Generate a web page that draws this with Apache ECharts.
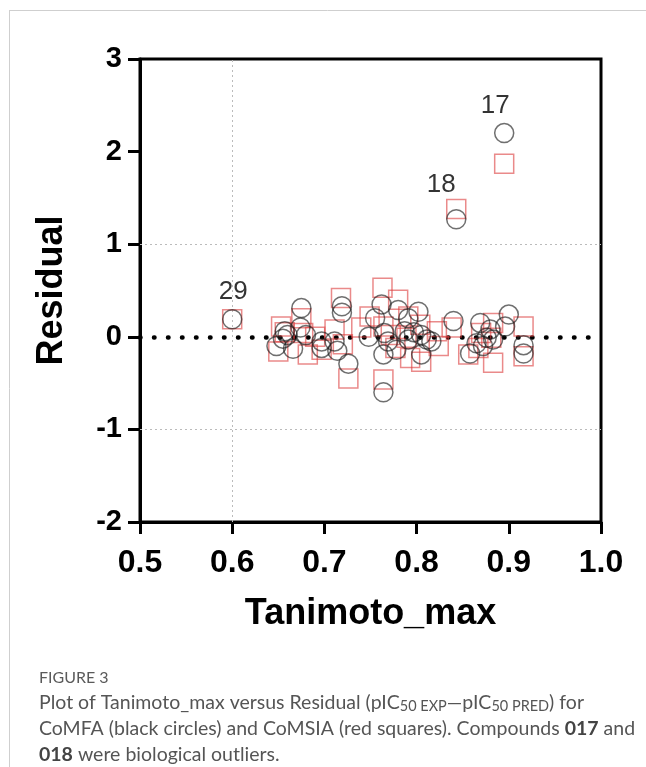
<!DOCTYPE html>
<html>
<head>
<meta charset="utf-8">
<script src="https://cdn.jsdelivr.net/npm/echarts@6/dist/echarts.min.js"></script>
<style>
  html, body { margin: 0; padding: 0; background: #fff; }
  #chart { width: 646px; height: 767px; }
</style>
</head>
<body>
<div id="chart"></div>
<script>
// x tick labels / y tick labels
const xTicks = [0.5, 0.6, 0.7, 0.8, 0.9, 1.0];
const yTicks = [-2, -1, 0, 1, 2, 3];

// CoMFA residuals (black circles): [Tanimoto_max, Residual]
const comfa = [
    [0.600, 0.19], [0.648, -0.10], [0.655, -0.02], [0.657, 0.06], [0.660, 0.02],
    [0.666, -0.13], [0.674, 0.10], [0.675, 0.31], [0.680, 0.02], [0.697, -0.05],
    [0.697, -0.12], [0.711, -0.05], [0.714, -0.15], [0.719, 0.33], [0.719, 0.26],
    [0.726, -0.29], [0.748, 0.00], [0.755, 0.20], [0.762, 0.35], [0.764, -0.19],
    [0.764, -0.60], [0.769, -0.05], [0.765, 0.04], [0.778, -0.14], [0.780, 0.29],
    [0.787, 0.06], [0.791, 0.20], [0.791, -0.03], [0.797, 0.05], [0.802, 0.27],
    [0.805, 0.02], [0.805, -0.19], [0.811, -0.03], [0.816, -0.05], [0.840, 0.17],
    [0.843, 1.27], [0.858, -0.18], [0.865, -0.07], [0.869, 0.15], [0.872, -0.10],
    [0.876, -0.01], [0.880, 0.08], [0.883, -0.03], [0.896, 0.11], [0.895, 2.20],
    [0.900, 0.24], [0.916, -0.09], [0.916, -0.18]
];

// CoMSIA residuals (red squares)
const comsia = [
    [0.600, 0.19], [0.650, -0.16], [0.653, 0.11], [0.657, 0.05], [0.675, 0.20],
    [0.677, 0.04], [0.682, -0.19], [0.690, 0.00], [0.697, -0.14], [0.711, 0.08],
    [0.718, 0.42], [0.720, -0.08], [0.726, -0.45], [0.740, 0.10], [0.749, 0.22],
    [0.763, 0.53], [0.764, 0.11], [0.764, -0.46], [0.772, 0.02], [0.777, -0.12],
    [0.780, 0.40], [0.789, -0.01], [0.791, 0.22], [0.793, -0.23], [0.804, 0.13],
    [0.805, -0.27], [0.822, 0.06], [0.824, -0.10], [0.838, 0.10], [0.843, 1.38],
    [0.856, -0.19], [0.867, -0.12], [0.870, 0.04], [0.881, -0.01], [0.883, 0.15],
    [0.883, -0.28], [0.895, 1.87], [0.916, 0.11], [0.916, -0.21]
];

// labelled compounds
const outlierNames = ['17', '18', '29'];
const outlierPts = [[0.895, 2.20], [0.843, 1.38], [0.600, 0.19]];

const chart = echarts.init(document.getElementById('chart'));

const boldFont = '"Liberation Sans", Arial, sans-serif';
const capFont = 'Lato, "Open Sans", sans-serif';

const labelOffsets = [[-9, 0], [-15, 0], [1, 0]];
const labelDist = [14, 11, 14];

const option = {
    animation: false,
    backgroundColor: '#fff',
    grid: {
        left: 140, right: 45, top: 59, bottom: 245,
        show: true, borderColor: '#000', borderWidth: 3
    },
    xAxis: {
        type: 'value',
        min: xTicks[0], max: xTicks[xTicks.length - 1], interval: 0.1,
        name: 'Tanimoto_max', nameLocation: 'middle', nameGap: 74,
        nameTextStyle: { fontFamily: boldFont, fontWeight: 'bold', fontSize: 36, color: '#000' },
        axisLine: { show: true, onZero: false, lineStyle: { color: '#000', width: 3 } },
        axisTick: { show: true, length: 12, lineStyle: { color: '#000', width: 3 } },
        axisLabel: {
            margin: 25, fontFamily: boldFont, fontWeight: 'bold', fontSize: 32, color: '#000',
            formatter: v => v.toFixed(1)
        },
        splitLine: { show: false }
    },
    yAxis: {
        type: 'value',
        min: yTicks[0], max: yTicks[yTicks.length - 1], interval: 1,
        name: 'Residual', nameLocation: 'middle', nameGap: 70, nameRotate: 90,
        nameTextStyle: { fontFamily: boldFont, fontWeight: 'bold', fontSize: 36, color: '#000' },
        axisLine: { show: true, onZero: false, lineStyle: { color: '#000', width: 3 } },
        axisTick: { show: true, length: 12, lineStyle: { color: '#000', width: 3 } },
        axisLabel: { margin: 18, fontFamily: boldFont, fontWeight: 'bold', fontSize: 29, color: '#000' },
        splitLine: { show: false }
    },
    series: [
        {
            name: 'CoMSIA',
            type: 'scatter',
            symbol: 'rect',
            symbolSize: 19,
            itemStyle: { color: 'transparent', borderColor: 'rgba(220,60,60,0.75)', borderWidth: 1.5 },
            data: comsia,
            z: 3
        },
        {
            name: 'CoMFA',
            type: 'scatter',
            symbol: 'circle',
            symbolSize: 19,
            itemStyle: { color: 'transparent', borderColor: 'rgba(30,30,30,0.8)', borderWidth: 1.5 },
            data: comfa,
            z: 4,
            markLine: {
                silent: true,
                symbol: 'none',
                label: { show: false },
                z: 1,
                data: [
                    { xAxis: 0.6, lineStyle: { color: '#bbb', width: 1, type: [2, 3] } },
                    { yAxis: 1, lineStyle: { color: '#bbb', width: 1, type: [2, 3] } },
                    { yAxis: -1, lineStyle: { color: '#bbb', width: 1, type: [2, 3] } },
                    { yAxis: 0, lineStyle: { color: '#000', width: 4.5, type: [0.5, 13.5], cap: 'round' } }
                ]
            }
        },
        {
            name: 'labels',
            type: 'scatter',
            symbol: 'circle',
            symbolSize: 1,
            itemStyle: { color: 'transparent' },
            data: outlierPts.map((p, i) => ({
                value: p,
                label: {
                    show: true, position: 'top', formatter: outlierNames[i],
                    offset: labelOffsets[i], distance: labelDist[i],
                    fontFamily: boldFont, fontSize: 26, color: '#000'
                }
            })),
            z: 5
        }
    ],
    graphic: [
        { type: 'line', shape: { x1: 9.5, y1: 10, x2: 9.5, y2: 767 }, style: { stroke: '#cfcfcf', lineWidth: 1 } },
        { type: 'line', shape: { x1: 9, y1: 10.5, x2: 646, y2: 10.5 }, style: { stroke: '#cfcfcf', lineWidth: 1 } },
        {
            type: 'text', left: 39, top: 670,
            style: { text: 'FIGURE 3', font: '16px ' + capFont, fill: '#5a5a5a' }
        },
        {
            type: 'text', left: 39, top: 690,
            style: {
                text: 'Plot of Tanimoto_max versus Residual (pIC{s|50 EXP}—pIC{s|50 PRED}) for\n' +
                      'CoMFA (black circles) and CoMSIA (red squares). Compounds {b|017} and\n' +
                      '{b|018} were biological outliers.',
                font: '19.5px ' + capFont,
                fill: '#555',
                lineHeight: 26,
                rich: {
                    s: { fontSize: 14.5, fontFamily: capFont, fill: '#555', padding: [7, 0, 0, 0], lineHeight: 26 },
                    b: { fontSize: 19.5, fontFamily: capFont, fontWeight: 'bold', fill: '#444', lineHeight: 26 }
                }
            }
        }
    ]
};

chart.setOption(option);
</script>
</body>
</html>
